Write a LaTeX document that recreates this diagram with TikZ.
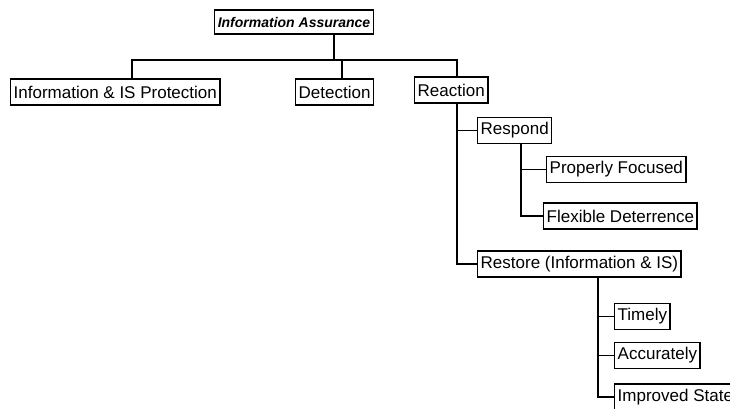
\documentclass[tikz,border=0pt]{standalone}
\usepackage{fontspec}
\setmainfont{Liberation Sans}
\usetikzlibrary{positioning}

\tikzset{
  box/.style={draw, line width=1.4pt, minimum height=26pt, inner sep=3pt,
    anchor=west, font=\fontsize{17}{19}\selectfont},
  link/.style={line width=1.4pt}
}

\begin{document}
\begin{tikzpicture}[x=1pt,y=-1pt]
  \useasboundingbox (0,0) rectangle (730,408);
  \clip (0,0) rectangle (730,408);
  % top level
  \node[box, anchor=center, minimum height=24pt,
    font=\fontsize{14}{16}\selectfont\bfseries\itshape] (ia) at (294,22) {Information Assurance};
  \node[box] (info) at (10,92) {Information \& IS Protection};
  \node[box] (det) at (295,92) {Detection};
  \node[box] (reac) at (414,90) {Reaction};
  % reaction branch
  \node[box] (resp) at (477,130.5) {Respond};
  \node[box] (prop) at (546,169.5) {Properly Focused};
  \node[box] (flex) at (543,216) {Flexible Deterrence};
  \node[box] (rest) at (477,264) {Restore (Information \& IS)};
  \node[box] (timely) at (614,316.5) {Timely};
  \node[box] (acc) at (614,355.5) {Accurately};
  \node[box] (impr) at (614,397) {Improved State};

  % connectors
  \coordinate (top) at (334,60);
  \coordinate (bl) at (132,60);
  \coordinate (bd) at (342,60);
  \coordinate (br) at (457,60);
  \draw[link] (top |- ia.south) -- (top);
  \draw[link] (bl |- info.north) -- (bl) -- (br) -- (br |- reac.north);
  \draw[link] (bd) -- (bd |- det.north);

  \coordinate (rt) at (457,0);
  \draw[link] (rt |- reac.south) |- (rest.west);
  \draw[link] (rt |- resp.west) -- (resp.west);

  \coordinate (st) at (521,0);
  \draw[link] (st |- resp.south) |- (flex.west);
  \draw[link] (st |- prop.west) -- (prop.west);

  \coordinate (rs) at (598,0);
  \draw[link] (rs |- rest.south) |- (impr.west);
  \draw[link] (rs |- timely.west) -- (timely.west);
  \draw[link] (rs |- acc.west) -- (acc.west);
\end{tikzpicture}
\end{document}
